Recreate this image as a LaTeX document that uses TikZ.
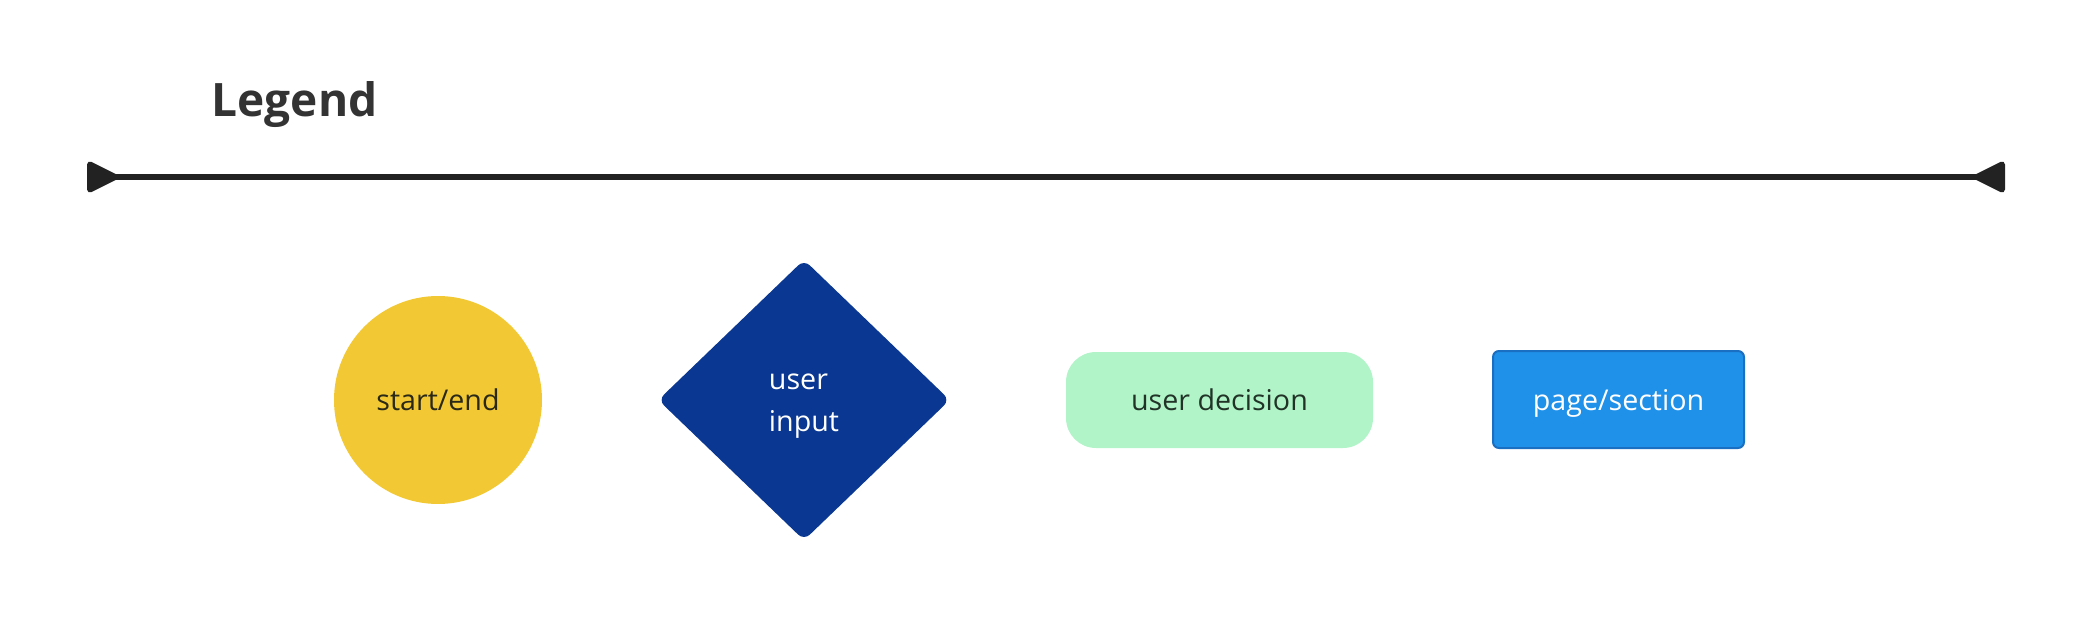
\documentclass[tikz,border=0pt]{standalone}
\usepackage{fontspec}
\setmainfont{Open Sans}
\usetikzlibrary{shapes.geometric,arrows.meta}
\definecolor{startyellow}{HTML}{F2C935}
\definecolor{inputnavy}{HTML}{0A3791}
\definecolor{decisiongreen}{HTML}{B0F4C8}
\definecolor{pageblue}{HTML}{2091E9}
\definecolor{pageborder}{HTML}{1A6FC2}
\definecolor{rulegray}{HTML}{222222}
\definecolor{darktext}{HTML}{2A2816}
\definecolor{greentext}{HTML}{213327}
\begin{document}
\begin{tikzpicture}[x=0.1mm,y=-0.1mm,
    legendtext/.style={font=\fontsize{8.15pt}{11.9pt}\selectfont,inner sep=0pt,text depth=0pt}]
    \useasboundingbox (0,0) rectangle (2079,620);
    %% title and rule
    \node[anchor=base west,inner sep=0pt,text=black!80,font=\fontsize{13.1pt}{15pt}\selectfont\bfseries] (legend) at (211,116) {Legend};
    \coordinate (ruleleft) at (87,177);
    \coordinate (ruleright) at (2005,177);
    \draw[rulegray,line width=0.6mm,{Triangle[reversed,length=3.5mm,width=3.3mm,round]}-{Triangle[reversed,length=3.5mm,width=3.3mm,round]}] (ruleleft) -- (ruleright);
    %% shapes
    \node[circle,fill=startyellow,minimum size=20.8mm,inner sep=0pt,legendtext,text=darktext] (startend) at (438,400) {start/end};
    \node[diamond,fill=inputnavy,minimum width=29.2mm,minimum height=28.1mm,inner sep=0pt,rounded corners=0.8mm,legendtext,text=white,align=left,text height=20pt,text depth=2pt] (input) at (804,400) {user\\input};
    \node[rectangle,fill=decisiongreen,minimum width=30.7mm,minimum height=9.6mm,rounded corners=3mm,legendtext,text=greentext] (decision) at (1219.5,400) {user decision};
    \node[rectangle,fill=pageblue,draw=pageborder,line width=0.2mm,minimum width=25.1mm,minimum height=9.7mm,rounded corners=0.6mm,legendtext,text=white] (page) at (1618.5,399.5) {page/section};
\end{tikzpicture}
\end{document}
